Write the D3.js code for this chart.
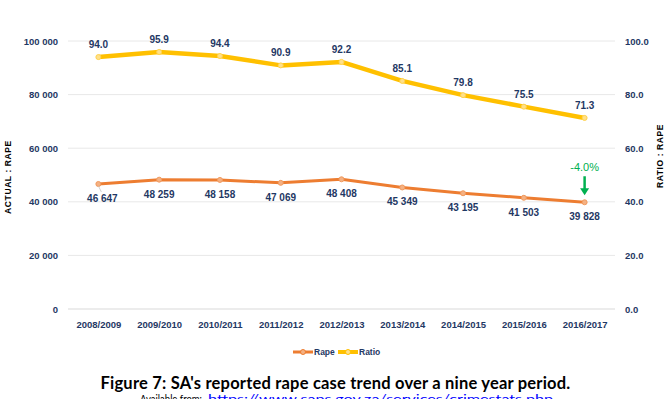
<!DOCTYPE html>
<html>
<head>
<meta charset="utf-8">
<script src="https://cdn.jsdelivr.net/npm/d3@7"></script>
<style>
  body { margin: 0; background: #fff; }
  svg { display: block; }
</style>
</head>
<body>
<script>
'use strict';

// reported cases per financial year
let years = ['2008/2009', '2009/2010', '2010/2011', '2011/2012', '2012/2013',
  '2013/2014', '2014/2015', '2015/2016', '2016/2017'];
let rape = [46647, 48259, 48158, 47069, 48408, 45349, 43195, 41503, 39828];
let ratio = [94.0, 95.9, 94.4, 90.9, 92.2, 85.1, 79.8, 75.5, 71.3];
let leftTicks = [0, 20000, 40000, 60000, 80000, 100000];
let rightTicks = [0, 20, 40, 60, 80, 100];
let change = '-4.0%';

let width = 669, height = 399;
let margin = { top: 41, right: 54, bottom: 90, left: 68 };

let navy = '#1f3864';
let orange = '#ed7d31';
let yellow = '#ffc000';
let font = '"Liberation Sans", Arial, sans-serif';

let svg = d3.select('body').append('svg')
  .attr('width', width)
  .attr('height', height);

let x = d3.scalePoint()
  .domain(years)
  .range([margin.left, width - margin.right])
  .padding(0.5);

let yLeft = d3.scaleLinear()
  .domain([0, 100000])
  .range([height - margin.bottom, margin.top]);

let yRight = d3.scaleLinear()
  .domain([0, 100])
  .range([height - margin.bottom, margin.top]);

// gridlines
svg.append('g')
  .selectAll('line')
  .data(leftTicks)
  .enter().append('line')
  .attr('x1', margin.left)
  .attr('x2', width - margin.right)
  .attr('y1', d => yLeft(d))
  .attr('y2', d => yLeft(d))
  .attr('stroke', d => d === 0 ? '#d9d9d9' : '#e8e8e8')
  .attr('stroke-width', 1);

// left axis
let fmtThousands = d => d3.format(',')(d).replace(/,/g, ' ');
let left = svg.append('g')
  .attr('transform', `translate(${margin.left},0)`)
  .call(d3.axisLeft(yLeft).tickValues(leftTicks).tickFormat(fmtThousands).tickSize(0).tickPadding(10));
left.select('.domain').remove();
left.selectAll('text')
  .attr('fill', navy).attr('font-family', font).attr('font-weight', 'bold').attr('font-size', 9.5);

// right axis
let right = svg.append('g')
  .attr('transform', `translate(${width - margin.right},0)`)
  .call(d3.axisRight(yRight).tickValues(rightTicks).tickFormat(d3.format('.1f')).tickSize(0).tickPadding(10));
right.select('.domain').remove();
right.selectAll('text')
  .attr('fill', navy).attr('font-family', font).attr('font-weight', 'bold').attr('font-size', 9.5);

// bottom axis
let bottom = svg.append('g')
  .attr('transform', `translate(0,${height - margin.bottom})`)
  .call(d3.axisBottom(x).tickSize(0).tickPadding(12));
bottom.select('.domain').remove();
bottom.selectAll('text')
  .attr('fill', navy).attr('font-family', font).attr('font-weight', 'bold').attr('font-size', 9.5);

// axis titles
svg.append('text')
  .attr('transform', `translate(11,177) rotate(-90)`)
  .attr('text-anchor', 'middle')
  .attr('font-family', font)
  .attr('font-weight', 'bold')
  .attr('font-size', 8.5)
  .attr('letter-spacing', 0.6)
  .attr('fill', '#000')
  .text('ACTUAL : RAPE');

svg.append('text')
  .attr('transform', `translate(663,156) rotate(-90)`)
  .attr('text-anchor', 'middle')
  .attr('font-family', font)
  .attr('font-weight', 'bold')
  .attr('font-size', 8.5)
  .attr('letter-spacing', 0.6)
  .attr('fill', '#000')
  .text('RATIO : RAPE');

// lines
let rapeLine = d3.line().x((d, i) => x(years[i])).y(d => yLeft(d));
let ratioLine = d3.line().x((d, i) => x(years[i])).y(d => yRight(d));

svg.append('path').datum(ratio)
  .attr('fill', 'none').attr('stroke', yellow).attr('stroke-width', 4.5)
  .attr('stroke-linejoin', 'round').attr('d', ratioLine);

svg.append('path').datum(rape)
  .attr('fill', 'none').attr('stroke', orange).attr('stroke-width', 3)
  .attr('stroke-linejoin', 'round').attr('d', rapeLine);

// markers
svg.append('g').selectAll('circle').data(ratio).enter().append('circle')
  .attr('cx', (d, i) => x(years[i])).attr('cy', d => yRight(d)).attr('r', 2.5)
  .attr('fill', '#ffe08a').attr('stroke', '#ffd24d').attr('stroke-width', 1);

svg.append('g').selectAll('circle').data(rape).enter().append('circle')
  .attr('cx', (d, i) => x(years[i])).attr('cy', d => yLeft(d)).attr('r', 2.5)
  .attr('fill', '#f4b183').attr('stroke', '#f19a5e').attr('stroke-width', 1);

// leader line for the first rape label
svg.append('line')
  .attr('x1', x(years[0])).attr('y1', yLeft(rape[0]) + 2)
  .attr('x2', x(years[0]) + 3).attr('y2', yLeft(rape[0]) + 8)
  .attr('stroke', '#bfbfbf').attr('stroke-width', 0.7);

// data labels
svg.append('g').selectAll('text').data(ratio).enter().append('text')
  .attr('x', (d, i) => x(years[i]))
  .attr('y', d => yRight(d) - 9)
  .attr('text-anchor', 'middle')
  .attr('font-family', font).attr('font-weight', 'bold').attr('font-size', 10)
  .attr('fill', navy)
  .text(d => d.toFixed(1));

svg.append('g').selectAll('text').data(rape).enter().append('text')
  .attr('x', (d, i) => x(years[i]) + (i === 0 ? 4 : 0))
  .attr('y', d => yLeft(d) + 18)
  .attr('text-anchor', 'middle')
  .attr('font-family', font).attr('font-weight', 'bold').attr('font-size', 10)
  .attr('fill', navy)
  .text(d => fmtThousands(d));

// change annotation on the last point
let lastX = x(years[years.length - 1]);
let lastY = yLeft(rape[rape.length - 1]);
svg.append('text')
  .attr('x', lastX).attr('y', lastY - 31)
  .attr('text-anchor', 'middle')
  .attr('font-family', font).attr('font-size', 11)
  .attr('fill', '#00b050')
  .text(change);
svg.append('line')
  .attr('x1', lastX).attr('x2', lastX)
  .attr('y1', lastY - 26).attr('y2', lastY - 13)
  .attr('stroke', '#00b050').attr('stroke-width', 2.5);
svg.append('path')
  .attr('d', `M${lastX - 4.5},${lastY - 14}L${lastX + 4.5},${lastY - 14}L${lastX},${lastY - 7}Z`)
  .attr('fill', '#00b050');

// legend
let legend = [
  { name: 'Rape', color: orange, fill: '#f4b183', w: 3 },
  { name: 'Ratio', color: yellow, fill: '#ffe08a', w: 4 }
];
let lg = svg.append('g').attr('transform', 'translate(293,352)');
legend.forEach((d, i) => {
  let g = lg.append('g').attr('transform', `translate(${i * 45},0)`);
  g.append('line').attr('x1', 0).attr('x2', 20).attr('y1', 0).attr('y2', 0)
    .attr('stroke', d.color).attr('stroke-width', d.w);
  g.append('circle').attr('cx', 10).attr('cy', 0).attr('r', 2.5)
    .attr('fill', d.fill).attr('stroke', d.color).attr('stroke-width', 1);
  g.append('text').attr('x', 21).attr('y', 3)
    .attr('font-family', font).attr('font-weight', 'bold').attr('font-size', 8.5)
    .attr('fill', navy).text(d.name);
});

// caption
svg.append('text')
  .attr('x', 335.5).attr('y', 389)
  .attr('text-anchor', 'middle')
  .attr('font-family', 'Lato, sans-serif').attr('font-weight', 'bold').attr('font-size', 16.5)
  .attr('letter-spacing', 0.2)
  .attr('fill', '#000')
  .text("Figure 7: SA's reported rape case trend over a nine year period.");

// source line, cut by the bottom edge as in the original
let src = svg.append('g').attr('font-family', 'Lato, sans-serif').attr('font-size', 11);
src.append('text')
  .attr('x', 140).attr('y', 403)
  .attr('textLength', 62).attr('lengthAdjust', 'spacingAndGlyphs')
  .attr('fill', '#000')
  .text('Available from:');
src.append('text')
  .attr('x', 208).attr('y', 403)
  .attr('textLength', 345).attr('lengthAdjust', 'spacingAndGlyphs')
  .attr('fill', '#0000ff').attr('text-decoration', 'underline')
  .text('https://www.saps.gov.za/services/crimestats.php');
</script>
</body>
</html>
